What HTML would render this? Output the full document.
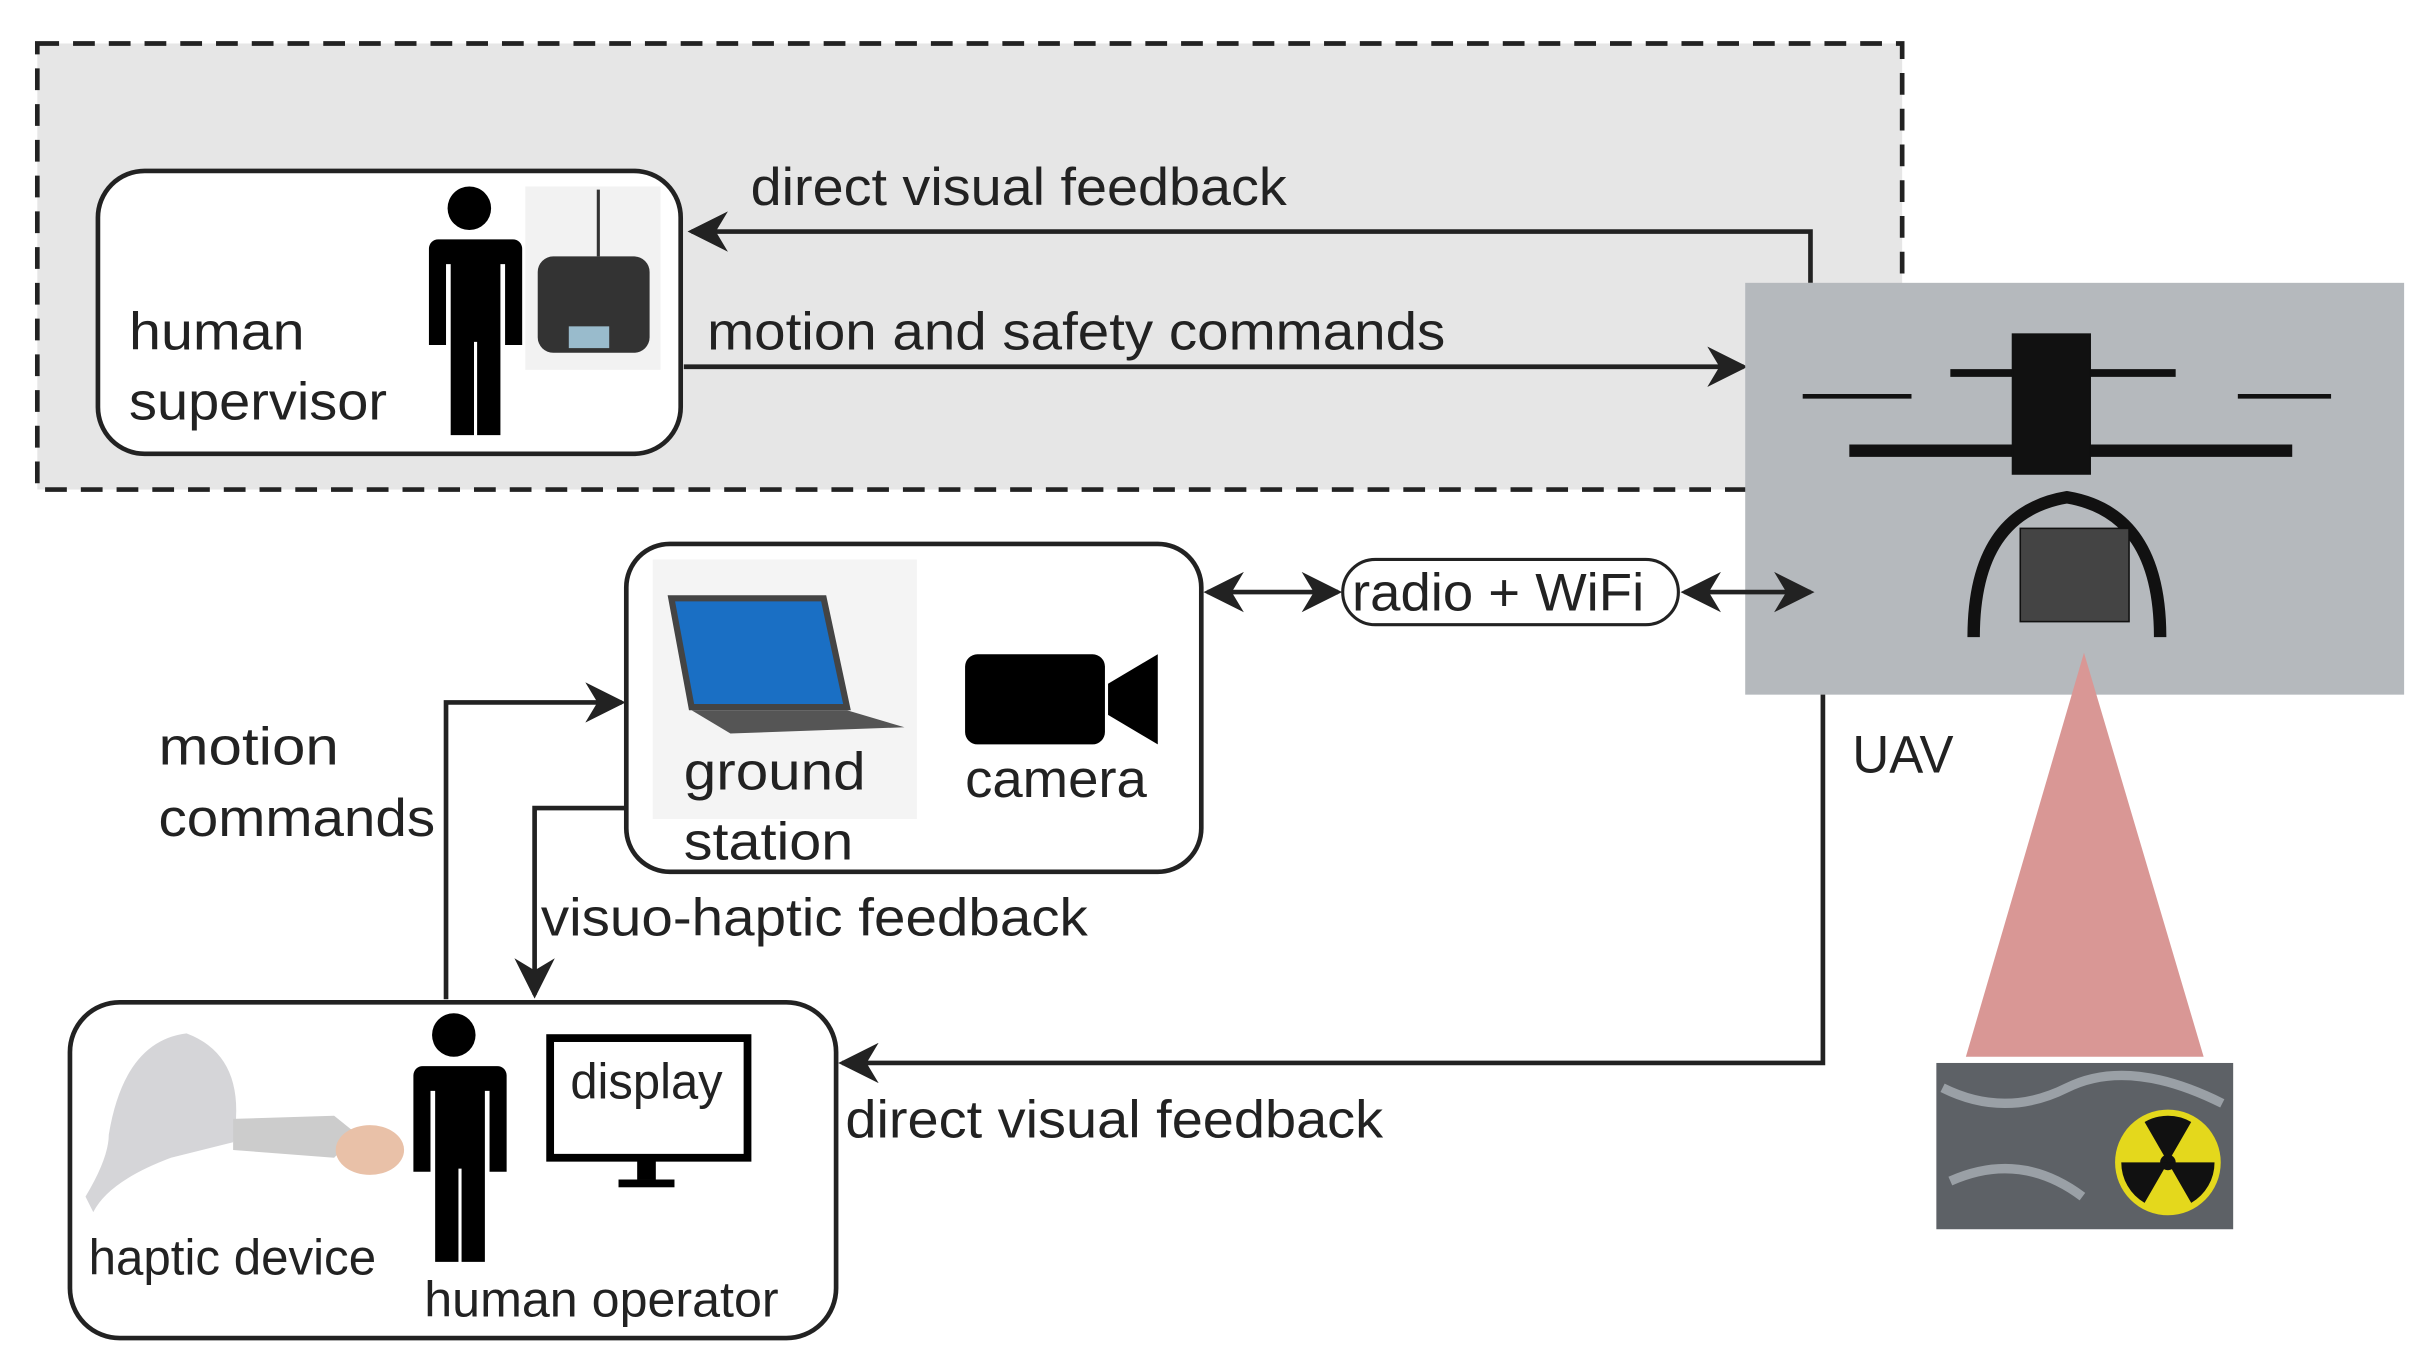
<!DOCTYPE html>
<html><head><meta charset="utf-8"><style>
html,body{margin:0;padding:0;background:#fff;}
svg{display:block;}
text{font-family:"Liberation Sans",sans-serif;fill:#222;}
</style></head><body>
<svg width="2429" height="1366" viewBox="0 0 1563 879" xmlns="http://www.w3.org/2000/svg">
<defs>
<marker id="b" viewBox="0 0 10 10" refX="9" refY="5" markerWidth="26" markerHeight="26" orient="auto-start-reverse" markerUnits="userSpaceOnUse">
<path d="M0,0 L10,5 L0,10 L3,5 z" fill="#222"/></marker>
<g id="person"><circle cx="0" cy="14" r="14" fill="#000"/><path d="M-28,34 h56 a6,6 0 0 1 6,6 v62 h-11 v-52 h-3 v110 h-15 v-60 h-2 v60 h-15 v-110 h-3 v52 h-11 v-62 a6,6 0 0 1 6,-6z" fill="#000"/></g>
</defs>
<rect x="24" y="28" width="1200" height="287" fill="#e6e6e6" stroke="#222" stroke-width="3" stroke-dasharray="14,9"/>
<!-- supervisor -->
<rect x="63" y="110" width="375" height="182" rx="30" fill="#fff" stroke="#222" stroke-width="3"/>
<use href="#person" transform="translate(302,120)"/>
<rect x="338" y="120" width="87" height="118" fill="#f2f2f2"/>
<rect x="346" y="165" width="72" height="62" rx="10" fill="#333"/>
<rect x="366" y="210" width="26" height="14" fill="#9bc"/>
<line x1="385" y1="122" x2="385" y2="165" stroke="#333" stroke-width="2"/>
<text x="83" y="225" font-size="34" textLength="113" lengthAdjust="spacingAndGlyphs">human</text>
<text x="83" y="270" font-size="34" textLength="166" lengthAdjust="spacingAndGlyphs">supervisor</text>
<text x="483" y="132" font-size="34" textLength="345" lengthAdjust="spacingAndGlyphs">direct visual feedback</text>
<polyline points="1165,182 1165,149 445,149" fill="none" stroke="#222" stroke-width="3" marker-end="url(#b)"/>
<text x="455" y="225" font-size="34" textLength="475" lengthAdjust="spacingAndGlyphs">motion and safety commands</text>
<line x1="440" y1="236" x2="1122" y2="236" stroke="#222" stroke-width="3" marker-end="url(#b)"/>
<!-- UAV -->
<rect x="1123" y="182" width="424" height="265" fill="#b5b9bd"/>
<g stroke="#111" fill="#111">
<line x1="1190" y1="290" x2="1475" y2="290" stroke-width="8"/>
<line x1="1255" y1="240" x2="1400" y2="240" stroke-width="5"/>
<rect x="1295" y="215" width="50" height="90"/>
<path d="M1270,410 Q1270,330 1330,320 Q1390,330 1390,410" fill="none" stroke-width="8"/>
<rect x="1300" y="340" width="70" height="60" fill="#444"/>
<line x1="1160" y1="255" x2="1230" y2="255" stroke-width="3"/>
<line x1="1440" y1="255" x2="1500" y2="255" stroke-width="3"/>
</g>
<text x="1192" y="497" font-size="34" textLength="65" lengthAdjust="spacingAndGlyphs">UAV</text>
<!-- ground station -->
<rect x="403" y="350" width="370" height="211" rx="28" fill="#fff" stroke="#222" stroke-width="3"/>
<rect x="420" y="360" width="170" height="167" fill="#f4f4f4"/>
<path d="M432,385 L530,385 L545,455 L445,455 z" fill="#1a6fc4" stroke="#444" stroke-width="4"/>
<path d="M445,457 L545,457 L582,468 L470,472 z" fill="#555"/>
<rect x="621" y="421" width="90" height="58" rx="8" fill="#000"/>
<path d="M713,440 L745,421 L745,479 L713,460 z" fill="#000"/>
<text x="440" y="508" font-size="34" textLength="117" lengthAdjust="spacingAndGlyphs">ground</text>
<text x="440" y="553" font-size="34" textLength="109" lengthAdjust="spacingAndGlyphs">station</text>
<text x="621" y="513" font-size="34" textLength="117" lengthAdjust="spacingAndGlyphs">camera</text>
<rect x="864" y="360" width="216" height="42" rx="21" fill="#fff" stroke="#222" stroke-width="2"/>
<text x="870" y="393" font-size="34" textLength="188" lengthAdjust="spacingAndGlyphs">radio + WiFi</text>
<line x1="777" y1="381" x2="861" y2="381" stroke="#222" stroke-width="3" marker-start="url(#b)" marker-end="url(#b)"/>
<line x1="1084" y1="381" x2="1165" y2="381" stroke="#222" stroke-width="3" marker-start="url(#b)" marker-end="url(#b)"/>
<!-- motion commands -->
<text x="102" y="492" font-size="34" textLength="116" lengthAdjust="spacingAndGlyphs">motion</text>
<text x="102" y="538" font-size="34" textLength="178" lengthAdjust="spacingAndGlyphs">commands</text>
<polyline points="287,643 287,452 400,452" fill="none" stroke="#222" stroke-width="3" marker-end="url(#b)"/>
<polyline points="403,520 344,520 344,640" fill="none" stroke="#222" stroke-width="3" marker-end="url(#b)"/>
<text x="348" y="602" font-size="34" textLength="352" lengthAdjust="spacingAndGlyphs">visuo-haptic feedback</text>
<!-- operator -->
<rect x="45" y="645" width="493" height="216" rx="32" fill="#fff" stroke="#222" stroke-width="3"/>
<path d="M70,730 Q80,670 120,665 Q160,680 150,735 L110,745 Q70,760 60,780 L55,770 Q70,745 70,730z" fill="#d5d5d8"/>
<path d="M150,720 L215,718 L230,730 L215,745 L150,740z" fill="#ccc"/>
<ellipse cx="238" cy="740" rx="22" ry="16" fill="#e9c1a8"/>
<use href="#person" transform="translate(292,652)"/>
<rect x="354" y="668" width="127" height="77" fill="#fff" stroke="#000" stroke-width="5"/>
<rect x="410" y="745" width="12" height="14" fill="#000"/>
<rect x="398" y="759" width="36" height="5" fill="#000"/>
<text x="367" y="707" font-size="32" textLength="98" lengthAdjust="spacingAndGlyphs">display</text>
<text x="57" y="820" font-size="32" textLength="185" lengthAdjust="spacingAndGlyphs">haptic device</text>
<text x="273" y="847" font-size="32" textLength="228" lengthAdjust="spacingAndGlyphs">human operator</text>
<polyline points="1173,447 1173,684 542,684" fill="none" stroke="#222" stroke-width="3" marker-end="url(#b)"/>
<text x="544" y="732" font-size="34" textLength="346" lengthAdjust="spacingAndGlyphs">direct visual feedback</text>
<!-- cone & radiation -->
<polygon points="1341,420 1265,680 1418,680" fill="#d99795"/>
<rect x="1246" y="684" width="191" height="107" fill="#5d6166"/>
<path d="M1250,700 Q1290,720 1330,700 T1430,710 M1255,760 Q1300,740 1340,770" stroke="#9aa0a6" stroke-width="6" fill="none"/>
<circle cx="1395" cy="748" r="34" fill="#e4d81c"/>
<circle cx="1395" cy="748" r="5" fill="#111"/>
<path d="M1395,748 L1380,722 A30,30 0 0 1 1410,722z M1395,748 L1425,748 A30,30 0 0 1 1410,774z M1395,748 L1380,774 A30,30 0 0 1 1365,748z" fill="#111"/>
</svg>
</body></html>
